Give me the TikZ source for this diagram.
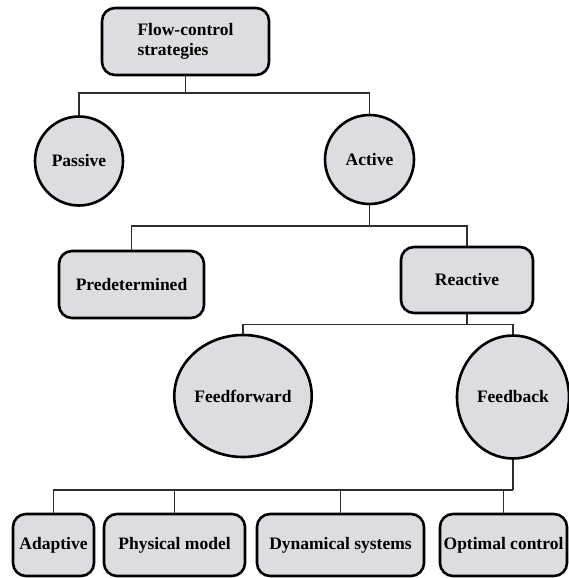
\documentclass[tikz,border=0pt]{standalone}
\usepackage{fontspec}
\setmainfont{Liberation Serif}
\usetikzlibrary{shapes.geometric}
\definecolor{boxfill}{RGB}{220,220,225}
\definecolor{linegray}{RGB}{45,45,45}
\begin{document}
\begin{tikzpicture}[x=1pt,y=-1pt,
  lbl/.style={font=\fontsize{17.5}{20}\selectfont\bfseries, text=black},
  rbox/.style={lbl, draw=black, line width=2.6pt, fill=boxfill, rounded corners=13pt, inner sep=0pt},
  oval/.style={lbl, draw=black, line width=2.6pt, fill=boxfill, ellipse, inner sep=0pt},
  conn/.style={draw=linegray, line width=1.3pt}]
\useasboundingbox (0,0) rectangle (569,578);
\fill[white] (0,0) rectangle (569,578);
% nodes
\node[rbox, minimum width=167pt, minimum height=67pt, align=left] (top) at (185.5,41.5) {Flow-control\\strategies};
\node[oval, minimum width=88pt, minimum height=89pt] (passive) at (79,161) {Passive};
\node[oval, minimum width=89pt, minimum height=89pt] (active) at (369.5,159.5) {Active};
\node[rbox, minimum width=145pt, minimum height=67pt] (pred) at (131.5,284.5) {Predetermined};
\node[rbox, minimum width=132pt, minimum height=66pt] (react) at (467,280) {Reactive};
\node[oval, minimum width=119pt, minimum height=122pt] (ff) at (243,396) {Feedforward};
\node[oval, minimum width=112pt, minimum height=123pt] (fb) at (513,397) {Feedback};
\node[rbox, minimum width=81pt, minimum height=62pt] (adapt) at (53.5,545) {Adaptive};
\node[rbox, minimum width=141pt, minimum height=62pt] (phys) at (174.5,545) {Physical model};
\node[rbox, minimum width=167pt, minimum height=62pt] (dyn) at (340.5,545) {Dynamical systems};
\node[rbox, minimum width=127pt, minimum height=62pt] (opt) at (503.5,545) {Optimal control};
% junctions
\coordinate (j1) at (185.5,93);
\coordinate (j2) at (369.5,226);
\coordinate (j3) at (467,324.5);
\coordinate (j4) at (513,490);
% connectors
\draw[conn] (top.south) -- (j1);
\draw[conn] (passive.north) |- (j1) -| (active.north);
\draw[conn] (active.south) -- (j2);
\draw[conn] (pred.north) |- (j2) -| (react.north);
\draw[conn] (react.south) -- (j3);
\draw[conn] (ff.north) |- (j3) -| (fb.north);
\draw[conn] (fb.south) -- (j4);
\draw[conn] (adapt.north) |- (j4);
\draw[conn] (phys.north) -- (phys.north |- j4);
\draw[conn] (dyn.north) -- (dyn.north |- j4);
\draw[conn] (opt.north) -- (opt.north |- j4);
\end{tikzpicture}
\end{document}
